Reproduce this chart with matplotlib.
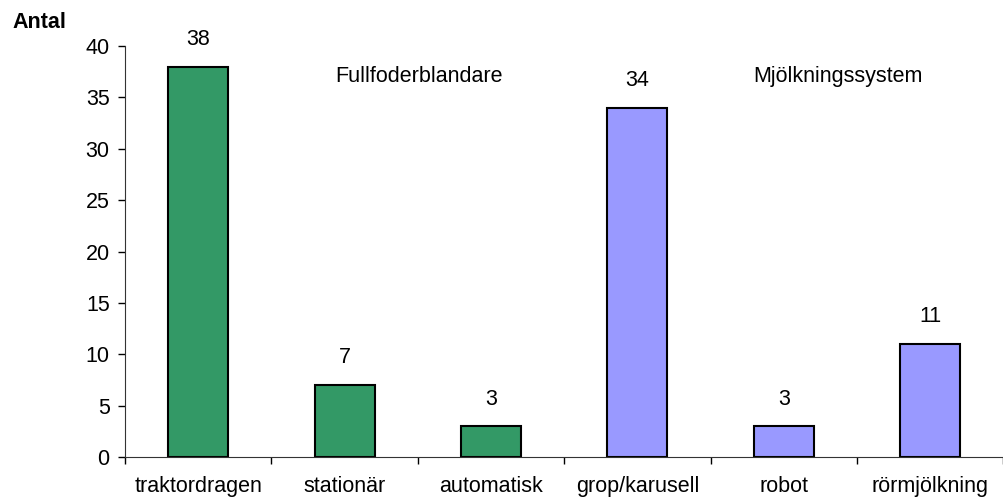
import numpy as np
import matplotlib
matplotlib.use("Agg")
import matplotlib.pyplot as plt

plt.rcParams['font.family'] = ['Liberation Sans', 'DejaVu Sans']

# antal gårdar per typ av utrustning
kategorier = ['traktordragen', 'stationär', 'automatisk', 'grop/karusell', 'robot', 'rörmjölkning']
antal = [38, 7, 3, 34, 3, 11]
farger = ['#339966', '#339966', '#339966', '#9999ff', '#9999ff', '#9999ff']

fs = 15.5

fig = plt.figure(figsize=(10.04, 4.98), dpi=100)
ax = fig.add_axes([0.1245, 0.0823, 0.875, 0.8253])

x = np.arange(len(kategorier))
ax.bar(x, antal, width=0.41, color=farger, edgecolor='black', linewidth=1.5)

for xi, v in zip(x, antal):
    ax.annotate(str(v), (xi, v), xytext=(0, 12), textcoords='offset points',
                ha='center', va='bottom', fontsize=fs)

ax.set_xlim(-0.5, len(kategorier) - 0.5)
ax.set_ylim(0, 40)
ax.set_yticks(range(0, 41, 5))
ax.tick_params(axis='y', labelsize=fs, length=5, width=1, direction='out', pad=6)

# tickstreck mellan kategorierna, etiketter i mitten
ax.set_xticks(np.arange(-0.5, len(kategorier)), minor=False)
ax.set_xticklabels([])
ax.set_xticks(x, minor=True)
ax.set_xticklabels(kategorier, minor=True, fontsize=fs)
ax.tick_params(axis='x', which='major', length=5, width=1, direction='out')
ax.tick_params(axis='x', which='minor', length=0, pad=14)

for s in ['top', 'right']:
    ax.spines[s].set_visible(False)
ax.spines['left'].set_color('#333333')
ax.spines['bottom'].set_color('#333333')

ax.text(1.51, 37, 'Fullfoderblandare', ha='center', va='center', fontsize=fs)
ax.text(4.37, 37, 'Mjölkningssystem', ha='center', va='center', fontsize=fs)
fig.text(0.012, 0.955, 'Antal', fontsize=fs, fontweight='bold', ha='left', va='center')

fig.savefig('out.png', dpi=100)
